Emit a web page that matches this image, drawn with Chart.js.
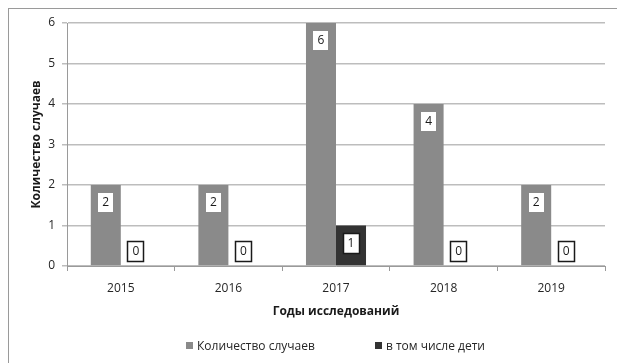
<!DOCTYPE html>
<html>
<head>
<meta charset="utf-8">
<script src="https://cdn.jsdelivr.net/npm/chart.js@4/dist/chart.umd.min.js"></script>
<style>
  body { margin: 0; background: #fff; overflow: hidden; font-family: "Open Sans", sans-serif; }
  .frame { position: absolute; left: 8px; top: 8px; width: 700px; height: 500px; border: 1px solid #9a9a9a; }
  #chart { position: absolute; left: 0; top: 0; }
  .legend { position: absolute; left: 186px; top: 337px; display: flex; font-size: 12px; color: #262626; }
  .legend span { display: flex; align-items: center; margin-right: 60px; }
  .legend i { display: inline-block; width: 7px; height: 7px; margin-right: 4px; }
</style>
</head>
<body>
<div class="frame"></div>
<canvas id="chart" width="617" height="363"></canvas>
<div class="legend" id="legend"></div>
<script>
// годы и число случаев
const years = ['2015', '2016', '2017', '2018', '2019'];
const cases = [2, 2, 6, 4, 2];
const children = [0, 0, 1, 0, 0];
const seriesNames = ['Количество случаев', 'в том числе дети'];
const seriesColors = ['#8a8a8a', '#333333'];
const yTicks = [0, 1, 2, 3, 4, 5, 6];

const tickFont = { family: 'Open Sans', size: 12 };
const titleFont = { family: 'Open Sans', size: 12, weight: 'bold' };

// подписи значений в белых рамках
const valueLabels = {
    id: 'valueLabels',
    afterDatasetsDraw(chart) {
        const ctx = chart.ctx;
        const base = chart.scales.y.getPixelForValue(0);
        ctx.save();
        ctx.font = '12px "Open Sans"';
        ctx.textAlign = 'center';
        ctx.textBaseline = 'middle';
        chart.data.datasets.forEach((ds, i) => {
            chart.getDatasetMeta(i).data.forEach((bar, j) => {
                const w = i === 0 ? 15 : 17;
                const h = i === 0 ? 19 : 21;
                const cy = Math.round(Math.min(bar.y + 17, base - 15));
                const x0 = Math.round(bar.x - w / 2);
                const y0 = Math.round(cy - h / 2);
                ctx.fillStyle = '#fff';
                ctx.fillRect(x0, y0, w, h);
                if (i === 1) {
                    ctx.strokeStyle = '#1a1a1a';
                    ctx.lineWidth = 1.5;
                    ctx.strokeRect(x0 + 0.5, y0 + 0.5, w - 1, h - 1);
                }
                ctx.fillStyle = '#1a1a1a';
                ctx.fillText(String(ds.data[j]), bar.x, cy + 1);
            });
        });
        ctx.restore();
    }
};

new Chart(document.getElementById('chart'), {
    type: 'bar',
    data: {
        labels: years,
        datasets: [
            { label: seriesNames[0], data: cases, backgroundColor: seriesColors[0] },
            { label: seriesNames[1], data: children, backgroundColor: seriesColors[1] }
        ]
    },
    options: {
        responsive: false,
        animation: false,
        layout: { padding: { left: 22, top: 23, right: 12, bottom: 0 } },
        datasets: { bar: { categoryPercentage: 0.558, barPercentage: 1 } },
        plugins: { legend: { display: false }, tooltip: { enabled: false } },
        scales: {
            x: {
                afterFit(scale) { scale.height = 97; },
                grid: { drawOnChartArea: false, tickLength: 5, color: '#9a9a9a', lineWidth: 1 },
                border: { color: '#9a9a9a' },
                ticks: { font: tickFont, color: '#262626', padding: 10 },
                title: { display: true, text: 'Годы исследований', font: titleFont, color: '#1a1a1a', padding: { top: 4, bottom: 44 } }
            },
            y: {
                min: 0,
                max: 6,
                afterFit(scale) { scale.width = 45; },
                afterBuildTicks(scale) { scale.ticks = yTicks.map(v => ({ value: v })); },
                grid: { color: '#bdbdbd', lineWidth: 1.5, tickLength: 5 },
                border: { color: '#9a9a9a' },
                ticks: { font: tickFont, color: '#262626', padding: 7 },
                title: { display: true, text: 'Количество случаев', font: titleFont, color: '#1a1a1a', padding: { top: 7, bottom: 0 } }
            }
        }
    },
    plugins: [valueLabels]
});

// легенда под диаграммой
const legend = document.getElementById('legend');
seriesNames.forEach((name, i) => {
    const item = document.createElement('span');
    const box = document.createElement('i');
    box.style.background = seriesColors[i];
    item.appendChild(box);
    item.appendChild(document.createTextNode(name));
    legend.appendChild(item);
});
</script>
</body>
</html>
